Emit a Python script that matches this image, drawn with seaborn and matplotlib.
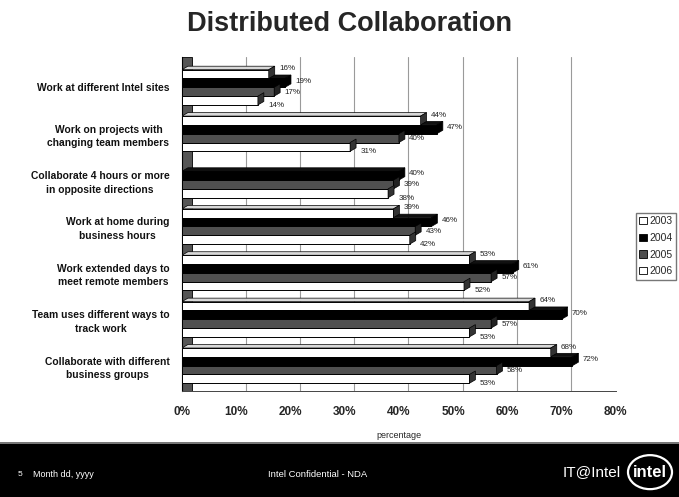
import matplotlib
matplotlib.use("Agg")
import matplotlib.pyplot as plt
import seaborn as sns
import pandas as pd
import numpy as np
from matplotlib.patches import Polygon, Rectangle, Ellipse, Patch

categories = [
    "Work at different Intel sites",
    "Work on projects with\nchanging team members",
    "Collaborate 4 hours or more\nin opposite directions",
    "Work at home during\nbusiness hours",
    "Work extended days to\nmeet remote members",
    "Team uses different ways to\ntrack work",
    "Collaborate with different\nbusiness groups",
]
years = ["2003", "2004", "2005", "2006"]
v2003 = [16, 44, np.nan, 39, 53, 64, 68]
v2004 = [19, 47, 40, 46, 61, 70, 72]
v2005 = [17, 40, 39, 43, 57, 57, 58]
v2006 = [14, 31, 38, 42, 52, 53, 53]
xticks = [0, 10, 20, 30, 40, 50, 60, 70, 80]

rows = []
for yr, vals in zip(years, [v2003, v2004, v2005, v2006]):
    for c, v in zip(categories, vals):
        rows.append({"category": c, "year": yr, "value": v})
df = pd.DataFrame(rows)

sns.set_style("white")
plt.rcParams["font.family"] = ["Liberation Sans", "DejaVu Sans"]

fig = plt.figure(figsize=(6.79, 4.97), dpi=100)
ax = fig.add_axes([0.268, 0.213, 0.639, 0.672])

face = {"2003": "white", "2004": "black", "2005": "#505050", "2006": "white"}
topc = {"2003": "#d8d8d8", "2004": "#111111", "2005": "#3a3a3a", "2006": "#d8d8d8"}
sidec = {"2003": "#333333", "2004": "#000000", "2005": "#222222", "2006": "#333333"}
label_frac = {"2003": -0.1, "2004": 0.3, "2005": 0.55, "2006": 1.05}

sns.barplot(data=df, y="category", x="value", hue="year", hue_order=years,
            order=categories, palette=face, edgecolor="black", linewidth=0.7,
            width=0.76, ax=ax, legend=False, zorder=3)

ax.set_xlim(0, 80)
ax.set_ylim(6.55, -0.65)
dx = 1.1
dy = 0.075

# left wall
ax.add_patch(Rectangle((0, -0.65), dx * 1.6, 7.2, facecolor="#555555",
                       edgecolor="black", lw=0.6, zorder=1))

# 3D faces for bars
for cont, yr in zip(ax.containers, years):
    for p in cont.patches:
        w = p.get_width()
        if not np.isfinite(w) or w <= 0:
            continue
        y = p.get_y(); h = p.get_height()
        top = Polygon([(0, y), (w, y), (w + dx, y - dy), (dx, y - dy)], closed=True,
                      facecolor=topc[yr], edgecolor="black", lw=0.5, zorder=2.9)
        side = Polygon([(w, y), (w + dx, y - dy), (w + dx, y + h - dy), (w, y + h)], closed=True,
                       facecolor=sidec[yr], edgecolor="black", lw=0.5, zorder=3.1)
        ax.add_patch(top); ax.add_patch(side)
        ax.text(w + dx + 0.8, y + h * label_frac[yr], f"{int(w)}%", fontsize=5.8,
                va="center", ha="left", color="#222222", zorder=4)

ax.set_xticks(xticks)
ax.set_xticklabels([f"{t}%" for t in xticks], fontsize=8.5, fontweight="bold")
ax.set_yticks(range(len(categories)))
ax.set_yticklabels(categories, fontsize=7.4, fontweight="bold", multialignment="center",
                   linespacing=1.45, color="#111111")
ax.tick_params(axis="y", length=3, pad=6)
ax.tick_params(axis="x", length=3, pad=8)
ax.set_ylabel("")
ax.set_xlabel("percentage", fontsize=6.5, labelpad=9)
for xv in xticks[1:]:
    ax.axvline(xv + dx * 1.6, color="#9a9a9a", lw=0.8, zorder=0)
for s in ["top", "right"]:
    ax.spines[s].set_visible(False)
ax.spines["left"].set_color("black")
ax.spines["bottom"].set_color("#444444")
ax.spines["bottom"].set_linewidth(0.7)

fig.text(0.515, 0.952, "Distributed Collaboration", ha="center", va="center",
         fontsize=19.5, fontweight="bold")

# legend
handles = [Patch(facecolor=face[y], edgecolor="black", lw=0.6) for y in years]
fig.legend(handles, years, loc="upper left", bbox_to_anchor=(0.937, 1 - 213 / 497),
           fontsize=7.5, frameon=True, fancybox=False, edgecolor="#555555",
           handlelength=0.7, handleheight=0.7, handletextpad=0.3,
           labelspacing=0.65, borderpad=0.3, borderaxespad=0)

# footer
fig.patches.append(Rectangle((0, 0), 1, 0.109, transform=fig.transFigure,
                             facecolor="black", edgecolor="none", zorder=0))
fig.patches.append(Rectangle((0, 0.107), 1, 0.004, transform=fig.transFigure,
                             facecolor="#777777", edgecolor="none", zorder=0))
fig.text(18 / 679, 0.046, "5", color="white", fontsize=6, va="center")
fig.text(33 / 679, 0.046, "Month dd, yyyy", color="white", fontsize=6.5, va="center")
fig.text(268 / 679, 0.046, "Intel Confidential - NDA", color="white", fontsize=6.8, va="center")
fig.text(563 / 679, 0.05, "IT@Intel", color="white", fontsize=11, va="center")
fig.text(650 / 679, 0.05, "intel", color="white", fontsize=12, fontweight="bold",
         va="center", ha="center")
fig.patches.append(Ellipse((650 / 679, 0.05), 44 / 679, 34 / 497, angle=0,
                           transform=fig.transFigure, facecolor="none",
                           edgecolor="white", lw=1.6))

fig.savefig("out.png", dpi=100)
